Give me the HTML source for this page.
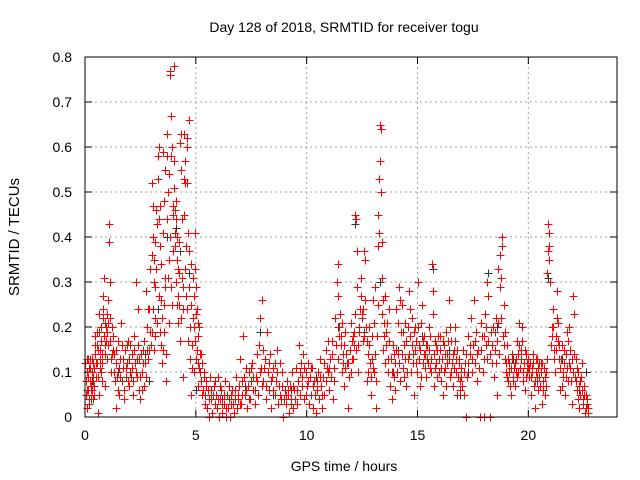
<!DOCTYPE html>
<html><head><meta charset="utf-8"><style>
html,body{margin:0;padding:0;background:#fff;}
svg{display:block;font-family:"Liberation Sans",sans-serif;}
</style></head>
<body>
<svg id="chart" width="640" height="480" viewBox="0 0 640 480" xmlns="http://www.w3.org/2000/svg">
<rect width="640" height="480" fill="#fff"/>
<text x="344" y="32" font-size="14" text-anchor="middle" fill="#000">Day 128 of 2018, SRMTID for receiver togu</text>
<text x="0" y="0" font-size="15" text-anchor="middle" fill="#000" transform="translate(19,237) rotate(-90)">SRMTID / TECUs</text>
<text x="344" y="471" font-size="14" text-anchor="middle" fill="#000">GPS time / hours</text>
<g id="grid"></g>
<g id="ticks"></g>
<g id="black"></g>
<g id="red"></g>
<rect x="85" y="57" width="532" height="360" fill="none" stroke="#000" stroke-width="1"/>
</svg>
<script>
const xTicks = [0, 5, 10, 15, 20];
const xTickLabels = ["0", "5", "10", "15", "20"];
const yTicks = [0, 0.1, 0.2, 0.3, 0.4, 0.5, 0.6, 0.7, 0.8];
const yTickLabels = ["0", "0.1", "0.2", "0.3", "0.4", "0.5", "0.6", "0.7", "0.8"];
const redPoints = [
[0.02,0.12],[0.05,0.05],[0.08,0.13],[0.1,0.02],[0.12,0.09],[0.15,0.06],[0.18,0.11],[0.2,0.03],[0.22,0.13],[0.25,0.07],[0.28,0.04],[0.3,0.1],[0.33,0.06],[0.35,0.12],[0.38,0.08],[0.4,0.05],[0.42,0.11],[0.45,0.18],[0.47,0.16],[0.5,0.09],
[0.52,0.19],[0.55,0.12],[0.58,0.01],[0.6,0.15],[0.62,0.23],[0.65,0.05],[0.68,0.13],[0.7,0.17],[0.72,0.1],[0.75,0.14],[0.78,0.12],[0.8,0.27],[0.82,0.24],[0.85,0.31],[0.88,0.16],[0.9,0.21],[0.92,0.07],[0.95,0.2],[0.98,0.23],[1.0,0.19],[1.02,0.26],[1.05,0.21],[1.08,0.43],[1.1,0.39],[1.12,0.3],[1.15,0.17],[1.18,0.13],[1.2,0.2],
[1.25,0.15],[1.3,0.1],[1.33,0.14],[1.38,0.02],[1.4,0.12],[1.45,0.09],[1.5,0.17],[1.55,0.05],[1.6,0.13],[1.63,0.21],[1.67,0.08],[1.7,0.11],[1.75,0.04],[1.8,0.15],[1.85,0.09],[1.9,0.12],[1.95,0.17],[2.0,0.07],[2.05,0.1],[2.1,0.14],[2.15,0.05],[2.2,0.18],[2.25,0.12],[2.3,0.3],[2.33,0.09],[2.38,0.24],[2.42,0.06],[2.45,0.13],[2.5,0.04],
[2.55,0.1],[2.6,0.15],[2.65,0.07],[2.7,0.12],[2.75,0.28],[2.8,0.2],[2.85,0.24],[2.88,0.15],[2.92,0.19],[2.95,0.33],
[3.0,0.36],[3.02,0.52],[3.05,0.4],[3.08,0.47],[3.1,0.3],[3.12,0.35],[3.15,0.22],[3.18,0.29],[3.2,0.46],[3.25,0.43],[3.28,0.58],[3.3,0.53],[3.32,0.6],[3.35,0.27],[3.38,0.38],[3.4,0.47],[3.42,0.16],[3.45,0.34],[3.48,0.12],
[3.5,0.41],[3.52,0.59],[3.55,0.25],[3.58,0.48],[3.6,0.31],[3.62,0.55],[3.65,0.08],[3.68,0.44],[3.7,0.63],[3.72,0.58],[3.75,0.5],[3.78,0.35],[3.8,0.54],[3.82,0.76],[3.85,0.77],[3.88,0.67],[3.9,0.58],[3.92,0.6],[3.95,0.45],[3.98,0.37],[4.0,0.51],[4.02,0.78],[4.05,0.46],[4.08,0.41],[4.1,0.3],[4.12,0.48],[4.15,0.35],[4.18,0.21],[4.2,0.27],
[4.22,0.32],[4.25,0.25],[4.28,0.17],[4.3,0.61],[4.32,0.63],[4.35,0.55],[4.38,0.44],[4.4,0.09],[4.42,0.29],[4.45,0.53],[4.48,0.63],[4.5,0.52],[4.52,0.57],[4.55,0.38],[4.58,0.62],[4.6,0.6],[4.62,0.24],[4.65,0.41],[4.68,0.66],[4.7,0.37],[4.72,0.13],[4.75,0.2],[4.78,0.34],[4.8,0.05],[4.82,0.11],[4.85,0.31],
[4.9,0.27],[4.92,0.2],[4.95,0.41],[4.98,0.33],[5.0,0.29],[5.02,0.23],[5.05,0.15],[5.08,0.21],[5.1,0.12],[5.12,0.07],[5.15,0.2],[5.18,0.14],[5.2,0.1],[5.25,0.08],[5.3,0.05],[5.35,0.09],[5.4,0.03],[5.45,0.07],
[5.5,0.02],[5.55,0.06],[5.6,0.0],[5.65,0.09],[5.7,0.04],[5.75,0.01],[5.8,0.07],[5.85,0.03],[5.9,0.05],[5.95,0.02],[6.0,0.09],[6.05,0.0],[6.1,0.04],[6.15,0.06],[6.2,0.01],[6.25,0.03],[6.3,0.08],[6.35,0.0],[6.4,0.05],[6.45,0.02],[6.5,0.07],[6.55,0.0],[6.6,0.03],[6.65,0.06],[6.7,0.01],[6.75,0.04],[6.8,0.09],[6.85,0.02],[6.9,0.05],[6.95,0.07],
[7.0,0.13],[7.05,0.03],[7.1,0.08],[7.15,0.18],[7.2,0.05],[7.25,0.11],[7.3,0.02],[7.35,0.07],[7.4,0.1],[7.45,0.04],[7.5,0.08],[7.55,0.12],[7.6,0.06],[7.65,0.03],[7.7,0.09],[7.75,0.14],[7.8,0.05],[7.85,0.16],[7.9,0.22],[7.95,0.11],[8.0,0.26],[8.02,0.15],
[8.05,0.08],[8.1,0.13],[8.15,0.04],[8.2,0.19],[8.25,0.1],[8.3,0.06],[8.35,0.14],[8.4,0.02],[8.45,0.09],[8.5,0.11],[8.55,0.05],[8.6,0.08],[8.65,0.15],[8.7,0.03],[8.75,0.07],[8.8,0.12],[8.85,0.04],[8.9,0.1],[8.95,0.0],[9.0,0.06],[9.05,0.03],[9.1,0.08],[9.15,0.05],[9.2,0.01],[9.25,0.07],[9.3,0.04],[9.35,0.1],[9.4,0.02],[9.45,0.06],[9.5,0.11],[9.55,0.03],[9.6,0.08],[9.65,0.16],[9.7,0.05],[9.75,0.12],[9.8,0.09],[9.85,0.14],[9.9,0.04],[9.95,0.1],
[10.0,0.07],[10.05,0.12],[10.1,0.03],[10.15,0.09],[10.2,0.05],[10.25,0.11],[10.3,0.02],[10.35,0.08],[10.4,0.01],[10.45,0.06],[10.5,0.1],[10.55,0.04],[10.6,0.13],[10.65,0.07],[10.7,0.02],[10.75,0.09],[10.8,0.05],[10.85,0.15],[10.9,0.11],[10.95,0.17],
[11.0,0.06],[11.05,0.13],[11.1,0.09],[11.15,0.17],[11.2,0.04],[11.25,0.11],[11.3,0.22],[11.35,0.3],[11.4,0.34],[11.42,0.27],[11.45,0.2],[11.5,0.23],[11.55,0.18],[11.6,0.1],[11.65,0.14],[11.7,0.07],[11.75,0.19],[11.8,0.12],[11.85,0.02],[11.9,0.09],[11.95,0.15],
[12.0,0.21],[12.05,0.17],[12.1,0.13],[12.15,0.19],[12.2,0.45],[12.22,0.44],[12.25,0.37],[12.28,0.29],[12.3,0.1],[12.35,0.2],[12.4,0.24],[12.45,0.31],[12.5,0.22],[12.55,0.17],[12.6,0.37],[12.63,0.35],[12.65,0.26],[12.7,0.08],[12.75,0.14],[12.8,0.2],[12.85,0.12],[12.9,0.05],[12.95,0.18],
[13.0,0.26],[13.05,0.1],[13.1,0.29],[13.15,0.02],[13.2,0.38],[13.22,0.45],[13.25,0.53],[13.28,0.41],[13.3,0.57],[13.32,0.65],[13.34,0.64],[13.36,0.5],[13.38,0.31],[13.4,0.23],[13.42,0.39],[13.45,0.15],[13.5,0.21],
[13.55,0.27],[13.6,0.19],[13.65,0.1],[13.7,0.24],[13.75,0.07],[13.8,0.13],[13.85,0.04],[13.9,0.16],[13.95,0.09],[14.0,0.12],[14.05,0.24],[14.1,0.14],[14.15,0.29],[14.2,0.08],[14.25,0.19],[14.3,0.25],[14.35,0.11],[14.4,0.16],[14.45,0.21],[14.5,0.07],[14.55,0.13],[14.6,0.28],[14.65,0.18],[14.7,0.1],[14.75,0.22],[14.8,0.14],[14.85,0.05],[14.9,0.2],[14.95,0.12],
[15.0,0.3],[15.05,0.16],[15.1,0.07],[15.15,0.21],[15.2,0.25],[15.25,0.12],[15.3,0.18],[15.35,0.14],[15.4,0.09],[15.45,0.16],[15.5,0.2],[15.55,0.11],[15.6,0.13],[15.65,0.34],[15.7,0.28],[15.75,0.07],[15.8,0.17],[15.85,0.12],[15.9,0.15],[15.95,0.1],[16.0,0.18],[16.05,0.08],[16.1,0.13],[16.15,0.05],[16.2,0.16],[16.25,0.11],[16.3,0.19],[16.35,0.14],[16.4,0.26],[16.45,0.09],[16.5,0.17],[16.55,0.12],[16.6,0.07],[16.65,0.15],[16.7,0.2],[16.75,0.1],[16.8,0.05],[16.85,0.13],[16.9,0.08],[16.95,0.11],
[17.0,0.07],[17.05,0.15],[17.1,0.05],[17.15,0.12],[17.2,0.0],[17.25,0.09],[17.3,0.18],[17.35,0.14],[17.4,0.22],[17.45,0.1],[17.5,0.16],[17.55,0.26],[17.6,0.12],[17.65,0.19],[17.7,0.08],[17.75,0.15],[17.8,0.0],[17.85,0.21],[17.9,0.18],[17.95,0.1],[18.0,0.13],
[18.0,0.0],[18.05,0.23],[18.1,0.16],[18.15,0.3],[18.2,0.27],[18.25,0.0],[18.3,0.19],[18.35,0.12],[18.4,0.2],[18.45,0.09],[18.5,0.15],[18.55,0.22],[18.6,0.05],[18.65,0.33],[18.7,0.36],[18.72,0.29],[18.75,0.31],[18.8,0.4],[18.82,0.38],[18.85,0.18],[18.9,0.25],[18.95,0.13],
[19.0,0.1],[19.05,0.16],[19.1,0.08],[19.15,0.12],[19.2,0.05],[19.25,0.14],[19.3,0.09],[19.35,0.11],[19.4,0.07],[19.45,0.13],[19.5,0.17],[19.55,0.1],[19.6,0.21],[19.65,0.15],[19.7,0.2],[19.75,0.08],[19.8,0.12],[19.85,0.06],[19.9,0.14],[19.95,0.1],
[20.0,0.13],[20.05,0.09],[20.1,0.05],[20.15,0.11],[20.2,0.14],[20.25,0.07],[20.3,0.02],[20.35,0.1],[20.4,0.13],[20.45,0.06],[20.5,0.09],[20.55,0.12],[20.6,0.03],[20.65,0.08],[20.7,0.11],[20.75,0.05],[20.8,0.07],[20.85,0.32],[20.88,0.37],[20.9,0.43],[20.92,0.41],[20.95,0.35],[20.98,0.3],
[21.05,0.2],[21.1,0.24],[21.15,0.15],[21.2,0.1],[21.25,0.18],[21.3,0.28],[21.35,0.21],[21.4,0.13],[21.45,0.06],[21.5,0.16],[21.55,0.09],[21.6,0.12],[21.65,0.05],[21.7,0.14],[21.75,0.19],[21.8,0.08],[21.85,0.2],[21.9,0.11],[21.95,0.03],[22.0,0.27],[22.05,0.23],[22.1,0.09],[22.15,0.13],[22.2,0.06],[22.25,0.1],[22.3,0.02],[22.35,0.08],[22.4,0.12],[22.45,0.04],[22.5,0.07],[22.55,0.01],[22.6,0.05],[22.65,0.03],[22.7,0.02]
];
const redExtra = [
[0.03,0.08],[0.07,0.1],[0.11,0.06],[0.14,0.13],[0.17,0.04],[0.21,0.08],[0.24,0.11],[0.27,0.06],[0.31,0.13],[0.34,0.09],[0.37,0.04],[0.41,0.07],[0.44,0.14],[0.48,0.12],[0.53,0.16],[0.57,0.09],[0.61,0.19],[0.66,0.11],[0.69,0.15],[0.73,0.2],[0.77,0.08],[0.81,0.22],[0.86,0.18],[0.91,0.14],[0.96,0.17],[1.01,0.13],[1.06,0.16],[1.11,0.22],[1.16,0.1],[1.22,0.14],[1.28,0.18],[1.35,0.08],[1.42,0.15],[1.48,0.06],[1.53,0.11],[1.58,0.09],[1.65,0.16],[1.72,0.13],[1.78,0.06],[1.83,0.11],[1.88,0.16],[1.93,0.08],[1.98,0.13],[2.03,0.16],[2.08,0.09],[2.13,0.11],[2.18,0.08],[2.23,0.15],[2.28,0.1],[2.35,0.13],[2.4,0.16],[2.47,0.09],[2.53,0.14],[2.58,0.06],[2.63,0.12],[2.68,0.17],[2.73,0.09],[2.78,0.15],[2.83,0.13],[2.9,0.24],[2.97,0.16],
[3.03,0.19],[3.07,0.24],[3.11,0.15],[3.14,0.39],[3.17,0.18],[3.22,0.33],[3.27,0.21],[3.33,0.44],[3.37,0.19],[3.43,0.26],[3.47,0.22],[3.53,0.15],[3.57,0.19],[3.63,0.29],[3.67,0.14],[3.73,0.31],[3.77,0.21],[3.83,0.4],[3.87,0.29],[3.93,0.25],[3.97,0.47],[4.03,0.57],[4.07,0.38],[4.11,0.44],[4.14,0.25],[4.17,0.4],[4.21,0.33],[4.26,0.39],[4.31,0.22],[4.36,0.31],[4.41,0.24],[4.46,0.45],[4.51,0.33],[4.56,0.27],[4.61,0.52],[4.66,0.17],[4.71,0.29],[4.76,0.25],[4.81,0.16],[4.86,0.22],[4.91,0.1],[4.96,0.17],[5.01,0.13],[5.06,0.24],[5.11,0.18],[5.16,0.11],[5.22,0.14],[5.28,0.12],[5.33,0.06],[5.38,0.1],[5.43,0.05],[5.48,0.08],
[5.58,0.04],[5.68,0.06],[5.78,0.05],[5.88,0.08],[5.98,0.04],[6.08,0.07],[6.18,0.03],[6.28,0.05],[6.38,0.02],[6.48,0.04],[6.58,0.05],[6.68,0.03],[6.78,0.06],[6.88,0.04],[6.98,0.03],[7.08,0.05],[7.18,0.09],[7.28,0.06],[7.38,0.04],[7.48,0.11],[7.58,0.09],[7.68,0.06],[7.78,0.08],[7.88,0.1],[7.98,0.07],[8.08,0.11],[8.18,0.07],[8.28,0.12],[8.38,0.08],[8.48,0.06],[8.58,0.12],[8.68,0.1],[8.78,0.05],[8.88,0.07],[8.98,0.04],[9.08,0.05],[9.18,0.06],[9.28,0.03],[9.38,0.07],[9.48,0.04],[9.58,0.06],[9.68,0.1],[9.78,0.07],[9.88,0.11],[9.98,0.05],[10.08,0.08],[10.18,0.11],[10.28,0.07],[10.38,0.05],[10.48,0.08],[10.58,0.09],[10.68,0.05],[10.78,0.12],[10.88,0.08],[10.98,0.1],
[11.03,0.11],[11.13,0.14],[11.23,0.08],[11.33,0.16],[11.43,0.13],[11.48,0.18],[11.53,0.16],[11.58,0.21],[11.63,0.12],[11.68,0.16],[11.73,0.11],[11.78,0.14],[11.88,0.12],[11.98,0.1],[12.03,0.13],[12.08,0.18],[12.13,0.16],[12.18,0.23],[12.24,0.15],[12.33,0.16],[12.38,0.19],[12.43,0.27],[12.48,0.23],[12.53,0.24],[12.58,0.18],[12.68,0.2],[12.73,0.17],[12.78,0.1],[12.83,0.16],[12.88,0.09],[12.93,0.13],[12.98,0.11],[13.03,0.21],[13.08,0.14],[13.13,0.08],[13.18,0.18],[13.24,0.25],[13.44,0.26],[13.48,0.18],[13.53,0.12],[13.58,0.16],[13.63,0.21],[13.68,0.13],[13.73,0.17],[13.83,0.1],[13.93,0.14],[13.98,0.06],[14.03,0.15],[14.08,0.1],[14.13,0.21],[14.18,0.12],[14.23,0.26],[14.28,0.14],[14.33,0.19],[14.38,0.09],[14.43,0.13],[14.48,0.17],[14.53,0.1],[14.58,0.2],[14.63,0.14],[14.68,0.24],[14.73,0.16],[14.78,0.12],[14.83,0.19],[14.88,0.15],[14.93,0.17],[14.98,0.1],
[15.03,0.2],[15.08,0.13],[15.13,0.15],[15.18,0.09],[15.23,0.17],[15.28,0.14],[15.33,0.11],[15.38,0.16],[15.43,0.13],[15.48,0.12],[15.53,0.15],[15.58,0.18],[15.63,0.1],[15.68,0.23],[15.73,0.14],[15.78,0.11],[15.83,0.16],[15.88,0.09],[15.93,0.18],[15.98,0.13],[16.03,0.15],[16.08,0.11],[16.13,0.17],[16.18,0.1],[16.23,0.14],[16.28,0.07],[16.33,0.12],[16.38,0.17],[16.43,0.13],[16.48,0.2],[16.53,0.1],[16.58,0.14],[16.63,0.11],[16.68,0.17],[16.73,0.13],[16.78,0.15],[16.83,0.09],[16.88,0.12],[16.93,0.06],[16.98,0.09],
[17.08,0.1],[17.18,0.14],[17.28,0.12],[17.38,0.16],[17.48,0.13],[17.58,0.17],[17.68,0.14],[17.78,0.11],[17.88,0.15],[17.98,0.18],[18.08,0.2],[18.13,0.13],[18.18,0.17],[18.28,0.14],[18.38,0.16],[18.48,0.19],[18.53,0.12],[18.58,0.17],[18.63,0.21],[18.68,0.14],[18.78,0.22],[18.88,0.16],[18.93,0.19],[18.98,0.12],[19.03,0.09],[19.08,0.13],[19.13,0.1],[19.18,0.07],[19.23,0.11],[19.28,0.13],[19.33,0.08],[19.38,0.12],[19.43,0.1],[19.48,0.09],[19.53,0.14],[19.58,0.16],[19.63,0.11],[19.68,0.13],[19.73,0.17],[19.78,0.1],[19.83,0.15],[19.88,0.09],[19.93,0.12],[19.98,0.11],
[20.03,0.11],[20.08,0.12],[20.13,0.09],[20.18,0.1],[20.23,0.12],[20.28,0.08],[20.33,0.13],[20.38,0.09],[20.43,0.11],[20.48,0.12],[20.53,0.07],[20.58,0.1],[20.63,0.12],[20.68,0.06],[20.73,0.09],[20.78,0.1],[20.83,0.13],[20.93,0.38],[21.03,0.16],[21.08,0.18],[21.13,0.2],[21.18,0.13],[21.23,0.15],[21.28,0.22],[21.33,0.17],[21.38,0.16],[21.43,0.11],[21.48,0.13],[21.53,0.07],[21.58,0.1],[21.63,0.15],[21.68,0.09],[21.73,0.11],[21.78,0.17],[21.83,0.12],[21.88,0.15],[21.93,0.08],[21.98,0.13],[22.03,0.1],[22.08,0.14],[22.13,0.08],[22.18,0.11],[22.23,0.04],[22.28,0.07],[22.33,0.05],[22.38,0.09],[22.43,0.06],[22.48,0.03],[22.53,0.05],[22.58,0.02],[22.63,0.04],[22.68,0.01]
];
const blackPoints = [
[0.3,0.08],[1.5,0.1],[2.7,0.14],[2.9,0.08],[3.3,0.24],[3.7,0.4],[4.1,0.42],[4.3,0.37],[4.7,0.32],[5.0,0.06],[5.3,0.12],[6.2,0.04],[7.2,0.07],[7.9,0.19],[8.5,0.05],[9.3,0.06],[10.4,0.09],[11.4,0.2],[12.2,0.43],[12.6,0.19],[13.3,0.3],[13.9,0.1],[14.1,0.15],[15.2,0.18],[15.7,0.33],[16.4,0.15],[16.9,0.05],[17.3,0.1],[18.2,0.32],[18.6,0.2],[19.3,0.13],[20.4,0.08],[20.9,0.31],[21.5,0.13],[22.3,0.06],[22.6,0.1]
];

const NS = "http://www.w3.org/2000/svg";
const L = 85, R = 617, T = 57, B = 417, XMAX = 24, YMAX = 0.8;
function xs(v){ return L + (v / XMAX) * (R - L); }
function ys(v){ return B - (v / YMAX) * (B - T); }
function mk(tag, attrs, parent){
  const e = document.createElementNS(NS, tag);
  for (const k in attrs) e.setAttribute(k, attrs[k]);
  parent.appendChild(e);
  return e;
}
const grid = document.getElementById('grid');
const ticks = document.getElementById('ticks');
const svg = document.getElementById('chart');
xTicks.forEach((t, i) => {
  const x = xs(t);
  if (t > 0) {
    const g = mk('line', {x1:x, y1:T, x2:x, y2:B, stroke:'#a0a0a0', 'stroke-width':1, 'stroke-dasharray':'2,3'}, grid);
    
    
  }
  const tk = mk('path', {d:`M${x},${B}v-7M${x},${T}v7`, stroke:'#000', 'stroke-width':1}, ticks);
  
  
  const lb = mk('text', {x:x, y:B + 23, 'font-size':14, 'text-anchor':'middle', fill:'#000'}, svg);
  lb.textContent = xTickLabels[i];
  
  
});
yTicks.forEach((t, i) => {
  const y = ys(t);
  if (t > 0 && t < YMAX) {
    const g = mk('line', {x1:L, y1:y, x2:R, y2:y, stroke:'#a0a0a0', 'stroke-width':1, 'stroke-dasharray':'2,3'}, grid);
    
    
  }
  const tk = mk('path', {d:`M${L},${y}h7M${R},${y}h-7`, stroke:'#000', 'stroke-width':1}, ticks);
  
  
  const lb = mk('text', {x:L - 13, y:y + 5, 'font-size':14, 'text-anchor':'end', fill:'#000'}, svg);
  lb.textContent = yTickLabels[i];
  
  
});
function plotSeries(points, gid, color, name){
  const g = document.getElementById(gid);
  points.forEach(p => {
    const x = Math.round(xs(p[0])) + 0.5, y = Math.round(ys(p[1])) + 0.5;
    const m = mk('path', {d:`M${x-4},${y}h8M${x},${y-4}v8`, stroke:color, 'stroke-width':1}, g);
    
    
  });
}
plotSeries(blackPoints, 'black', '#333', 'black-point');
plotSeries(redPoints, 'red', '#ff0000', 'red-point');
plotSeries(redExtra, 'red', '#ff0000', 'red-point');
</script>
</body></html>
